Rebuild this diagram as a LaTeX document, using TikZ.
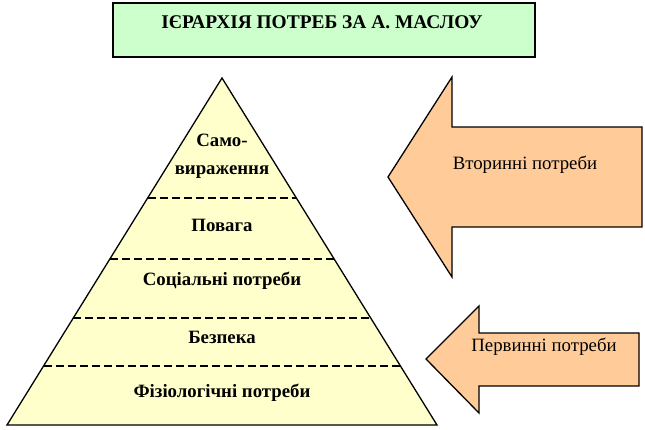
\documentclass[tikz,border=0pt]{standalone}
\usepackage{fontspec}
\setmainfont{Liberation Serif}
\usetikzlibrary{calc}
\definecolor{cTitle}{HTML}{CCFFCC}
\definecolor{cPyr}{HTML}{FFFFCC}
\definecolor{cArr}{HTML}{FFCC99}
\tikzset{
  frame/.style={draw=black, line width=1.6pt, fill=#1},
  lvl/.style={font=\fontsize{18.8}{28}\selectfont\bfseries, align=center, inner sep=1pt},
  side/.style={font=\fontsize{18.8}{20}\selectfont, inner sep=1pt},
  cut/.style={line width=1.2pt, dash pattern=on 8pt off 4pt},
}

\begin{document}
\begin{tikzpicture}[x=1pt, y=-1pt]
  \useasboundingbox (0,0) rectangle (645,430);
  % title
  \draw[frame=cTitle] (113,3) rectangle (535,57);
  \node[lvl, font=\fontsize{19.4}{20}\selectfont\bfseries] (title) at (322,22) {ІЄРАРХІЯ ПОТРЕБ ЗА А. МАСЛОУ};
  % pyramid
  \coordinate (apex) at (222,78);
  \coordinate (bl) at (7,425);
  \coordinate (br) at (437,425);
  \draw[frame=cPyr, line width=1.3pt, line join=miter] (apex) -- (br) -- (bl) -- cycle;
  \foreach \t in {0.3458,0.5216,0.6916,0.8300}
    \draw[cut] ($(apex)!\t!(bl)$) -- ($(apex)!\t!(br)$);
  \node[lvl] (self) at (222,156) {Само-\\вираження};
  \node[lvl] (esteem) at (222,225) {Повага};
  \node[lvl] (social) at (222,281) {Соціальні потреби};
  \node[lvl] (safety) at (222,337) {Безпека};
  \node[lvl] (body) at (222,393) {Фізіологічні потреби};
  % block arrows
  \draw[frame=cArr, line width=1.3pt, line join=miter]
    (388,177) -- (452,77) -- (452,127) -- (642,127) -- (642,227) -- (452,227) -- (452,277) -- cycle;
  \node[side] (second) at (525,165) {Вторинні потреби};
  \draw[frame=cArr, line width=1.3pt, line join=miter]
    (426,359) -- (479,306) -- (479,333) -- (639,333) -- (639,386) -- (479,386) -- (479,413) -- cycle;
  \node[side] (first) at (544,347) {Первинні потреби};
\end{tikzpicture}
\end{document}
